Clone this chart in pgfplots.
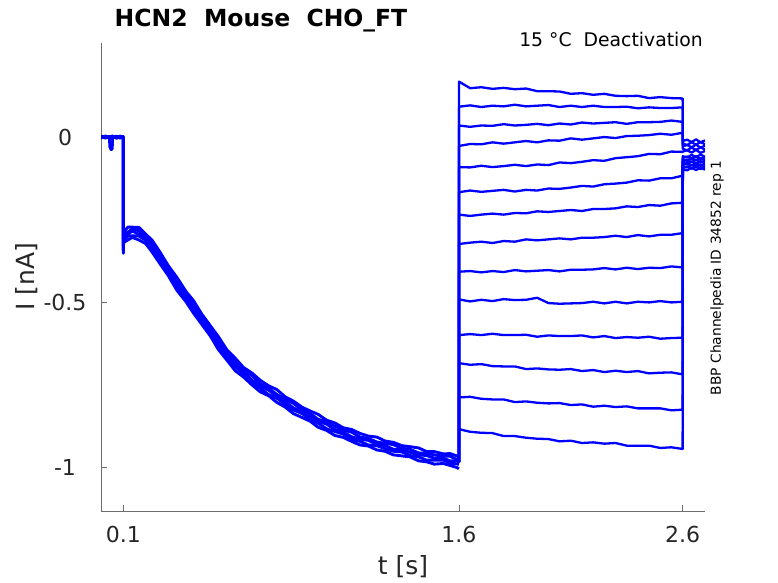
\documentclass[border=0pt]{standalone}
\usepackage{pgfplots}
\pgfplotsset{compat=1.18}
\usepackage{pgfplotstable}
\usepackage{fontspec}
\setmainfont{DejaVu Sans}
\definecolor{axgray}{RGB}{110,110,110}
\definecolor{txtgray}{RGB}{38,38,38}
\definecolor{trace}{RGB}{0,0,255}

\pgfplotstableread{
t      A      B      C      D      E
0      0.002  -0.002 0.001  -0.003 0.003
0.02   -0.002 0.003  -0.003 0.002  -0.001
0.037  0.001  -0.001 0.002  0.000  -0.002
0.04   0.000  0.001  -0.030 -0.002 0.002
0.045  -0.002 0.002  -0.038 0.001  -0.001
0.05   0.003  -0.003 -0.036 0.003  0.000
0.052  0.001  0.000  0.000  -0.001 0.002
0.07   -0.003 0.002  -0.002 0.002  -0.003
0.085  0.002  -0.002 0.003  -0.003 0.001
0.0995 0.000  0.001  -0.001 0.001  -0.002
0.1    -0.310 -0.330 -0.340 -0.345 -0.352
0.101  -0.288 -0.296 -0.305 -0.315 -0.319
0.12   -0.273 -0.288 -0.294 -0.300 -0.312
0.14   -0.273 -0.278 -0.285 -0.299 -0.304
0.17   -0.274 -0.284 -0.294 -0.300 -0.312
0.20   -0.294 -0.301 -0.307 -0.313 -0.323
0.23   -0.314 -0.322 -0.336 -0.343 -0.350
0.265  -0.350 -0.361 -0.367 -0.374 -0.385
0.30   -0.389 -0.396 -0.402 -0.416 -0.419
0.34   -0.426 -0.441 -0.448 -0.452 -0.465
0.38   -0.468 -0.475 -0.482 -0.491 -0.499
0.414  -0.496 -0.503 -0.517 -0.523 -0.534
0.45   -0.536 -0.544 -0.548 -0.555 -0.567
0.488  -0.571 -0.579 -0.588 -0.598 -0.602
0.525  -0.605 -0.620 -0.626 -0.632 -0.644
0.563  -0.645 -0.650 -0.657 -0.671 -0.676
0.60   -0.670 -0.680 -0.690 -0.696 -0.708
0.637  -0.698 -0.705 -0.711 -0.717 -0.727
0.675  -0.715 -0.723 -0.737 -0.744 -0.751
0.712  -0.737 -0.748 -0.754 -0.761 -0.772
0.75   -0.754 -0.761 -0.767 -0.781 -0.784
0.786  -0.765 -0.780 -0.787 -0.791 -0.804
0.823  -0.787 -0.794 -0.801 -0.810 -0.818
0.86   -0.800 -0.807 -0.821 -0.827 -0.838
0.90   -0.819 -0.827 -0.831 -0.838 -0.850
0.935  -0.830 -0.838 -0.847 -0.857 -0.861
0.97   -0.840 -0.855 -0.861 -0.867 -0.879
1.009  -0.858 -0.863 -0.870 -0.884 -0.889
1.045  -0.866 -0.876 -0.886 -0.892 -0.904
1.083  -0.881 -0.888 -0.894 -0.900 -0.910
1.12   -0.886 -0.894 -0.908 -0.915 -0.922
1.158  -0.898 -0.909 -0.915 -0.922 -0.933
1.195  -0.906 -0.913 -0.919 -0.933 -0.936
1.233  -0.909 -0.924 -0.931 -0.935 -0.948
1.27   -0.921 -0.928 -0.935 -0.944 -0.952
1.307  -0.925 -0.932 -0.946 -0.952 -0.963
1.345  -0.935 -0.943 -0.947 -0.954 -0.966
1.381  -0.938 -0.946 -0.955 -0.965 -0.969
1.42   -0.942 -0.957 -0.963 -0.969 -0.981
1.456  -0.953 -0.958 -0.965 -0.979 -0.984
1.49   -0.953 -0.963 -0.973 -0.979 -0.991
1.53   -0.960 -0.967 -0.973 -0.979 -0.989
1.56   -0.959 -0.967 -0.981 -0.988 -0.995
1.59   -0.966 -0.977 -0.981 -0.990 -1.001
1.6    -0.970 -0.975 -0.985 -0.992 -1.005
}\band

\pgfplotstableread{
t      L1     L2     L3     L4     L5     L6     L7     L8     L9     L10    L11    L12    L13    L14
1.6    -0.985 -0.985 -0.985 -0.985 -0.985 -0.985 -0.985 -0.985 -0.985 -0.985 -0.985 -0.985 -0.985 -0.985
1.6005 0.168  0.092  0.035  -0.027 -0.091 -0.167 -0.235 -0.324 -0.408 -0.492 -0.600 -0.685 -0.789 -0.885
1.65   0.148  0.096  0.031  -0.021 -0.092 -0.162 -0.239 -0.320 -0.406 -0.498 -0.597 -0.690 -0.787 -0.893
1.70   0.151  0.091  0.035  -0.022 -0.087 -0.166 -0.235 -0.317 -0.410 -0.493 -0.600 -0.688 -0.793 -0.896
1.75   0.146  0.095  0.034  -0.016 -0.091 -0.163 -0.232 -0.321 -0.406 -0.497 -0.596 -0.694 -0.795 -0.897
1.80   0.149  0.093  0.039  -0.020 -0.088 -0.160 -0.235 -0.315 -0.409 -0.491 -0.600 -0.695 -0.795 -0.906
1.85   0.145  0.098  0.035  -0.016 -0.084 -0.165 -0.230 -0.317 -0.403 -0.494 -0.600 -0.695 -0.803 -0.906
1.90   0.147  0.093  0.037  -0.012 -0.088 -0.160 -0.231 -0.310 -0.407 -0.493 -0.599 -0.703 -0.801 -0.911
1.95   0.139  0.095  0.040  -0.016 -0.083 -0.162 -0.225 -0.313 -0.405 -0.487 -0.605 -0.701 -0.805 -0.914
2.00   0.139  0.097  0.036  -0.010 -0.085 -0.156 -0.227 -0.310 -0.403 -0.503 -0.601 -0.704 -0.807 -0.915
2.05   0.138  0.091  0.041  -0.011 -0.077 -0.157 -0.224 -0.307 -0.407 -0.505 -0.603 -0.705 -0.806 -0.922
2.10   0.131  0.095  0.038  -0.004 -0.079 -0.153 -0.221 -0.310 -0.402 -0.504 -0.603 -0.703 -0.812 -0.920
2.15   0.133  0.091  0.044  -0.008 -0.075 -0.148 -0.224 -0.305 -0.402 -0.503 -0.601 -0.709 -0.810 -0.927
2.20   0.128  0.095  0.041  -0.004 -0.070 -0.150 -0.218 -0.305 -0.401 -0.499 -0.607 -0.706 -0.817 -0.925
2.25   0.131  0.091  0.043  0.000  -0.072 -0.143 -0.218 -0.303 -0.397 -0.504 -0.603 -0.712 -0.814 -0.929
2.30   0.125  0.091  0.045  -0.003 -0.064 -0.141 -0.216 -0.299 -0.401 -0.499 -0.609 -0.708 -0.818 -0.927
2.35   0.124  0.092  0.040  0.003  -0.061 -0.138 -0.210 -0.303 -0.396 -0.504 -0.606 -0.712 -0.816 -0.935
2.40   0.125  0.087  0.045  0.004  -0.058 -0.131 -0.212 -0.297 -0.400 -0.499 -0.608 -0.709 -0.822 -0.935
2.45   0.118  0.090  0.045  0.006  -0.051 -0.132 -0.206 -0.301 -0.396 -0.501 -0.605 -0.716 -0.822 -0.935
2.50   0.121  0.088  0.046  0.010  -0.052 -0.125 -0.208 -0.296 -0.397 -0.497 -0.611 -0.714 -0.822 -0.942
2.55   0.118  0.088  0.050  0.007  -0.044 -0.125 -0.201 -0.296 -0.392 -0.501 -0.609 -0.713 -0.828 -0.940
2.60   0.117  0.090  0.046  0.013  -0.045 -0.117 -0.199 -0.291 -0.395 -0.499 -0.608 -0.719 -0.826 -0.945
2.601  -0.012 -0.020 -0.028 -0.036 -0.044 -0.058 -0.063 -0.068 -0.073 -0.078 -0.083 -0.088 -0.093 -0.097
2.62   -0.008 -0.024 -0.024 -0.040 -0.040 -0.062 -0.059 -0.072 -0.069 -0.082 -0.079 -0.092 -0.089 -0.101
2.64   -0.015 -0.016 -0.031 -0.032 -0.047 -0.054 -0.066 -0.064 -0.076 -0.074 -0.086 -0.084 -0.096 -0.093
2.66   -0.007 -0.023 -0.023 -0.039 -0.039 -0.061 -0.058 -0.071 -0.068 -0.081 -0.078 -0.091 -0.088 -0.100
2.68   -0.016 -0.015 -0.032 -0.031 -0.048 -0.053 -0.067 -0.063 -0.077 -0.073 -0.087 -0.083 -0.097 -0.092
2.70   -0.010 -0.022 -0.026 -0.038 -0.042 -0.060 -0.061 -0.070 -0.071 -0.080 -0.081 -0.090 -0.091 -0.099
}\steps

\begin{document}
\begin{tikzpicture}
\useasboundingbox (0,0) rectangle (778bp,583bp);
\begin{axis}[
  at={(101bp,72bp)}, anchor=south west,
  scale only axis, width=604bp, height=468bp,
  xmin=0, xmax=2.7, ymin=-1.133, ymax=0.285,
  axis x line*=bottom, axis y line*=left,
  axis line style={-, draw=axgray, line width=0.8bp},
  every outer x axis line/.append style={-},
  every outer y axis line/.append style={-},
  tick align=inside, major tick length=6bp,
  tick style={draw=axgray, line width=0.8bp},
  xtick={0.1,1.6,2.6}, xticklabels={0.1,1.6,2.6},
  ytick={-1,-0.5,0}, yticklabels={-1,-0.5,0},
  minor tick num=0,
  tick label style={font=\fontsize{22bp}{26bp}\selectfont, text=txtgray},
  xticklabel style={anchor=center, yshift=-23bp},
  yticklabel style={anchor=center, xshift=-36bp},
  xlabel={t [s]}, ylabel={I [nA]},
  label style={font=\fontsize{25bp}{30bp}\selectfont, text=txtgray},
  xlabel style={at={(axis description cs:0.5,-0.1197)}, anchor=center},
  ylabel style={at={(axis description cs:-0.1225,0.5)}, anchor=center},
  bd/.style={draw=trace, solid, line width=2.9bp, line join=round, mark=none},
  tr/.style={draw=trace, solid, line width=2.3bp, line join=round, mark=none},
]
\addplot[bd] table[x=t,y=A]{\band};
\addplot[bd] table[x=t,y=B]{\band};
\addplot[bd] table[x=t,y=C]{\band};
\addplot[bd] table[x=t,y=D]{\band};
\addplot[bd] table[x=t,y=E]{\band};
\addplot[tr] table[x=t,y=L1]{\steps};
\addplot[tr] table[x=t,y=L2]{\steps};
\addplot[tr] table[x=t,y=L3]{\steps};
\addplot[tr] table[x=t,y=L4]{\steps};
\addplot[tr] table[x=t,y=L5]{\steps};
\addplot[tr] table[x=t,y=L6]{\steps};
\addplot[tr] table[x=t,y=L7]{\steps};
\addplot[tr] table[x=t,y=L8]{\steps};
\addplot[tr] table[x=t,y=L9]{\steps};
\addplot[tr] table[x=t,y=L10]{\steps};
\addplot[tr] table[x=t,y=L11]{\steps};
\addplot[tr] table[x=t,y=L12]{\steps};
\addplot[tr] table[x=t,y=L13]{\steps};
\addplot[tr] table[x=t,y=L14]{\steps};
\end{axis}
\node[anchor=base, font=\fontsize{23.5bp}{28bp}\selectfont\bfseries] at (261bp,556.3bp) {HCN2\ \ Mouse\ \ CHO\_FT};
\node[anchor=base east, font=\fontsize{18.8bp}{22bp}\selectfont, inner sep=0pt] at (703bp,536.3bp) {15 °C\ \ Deactivation};
\node[rotate=90, anchor=center, font=\fontsize{13.8bp}{16bp}\selectfont, inner sep=0pt] at (717bp,305bp) {BBP Channelpedia ID 34852 rep 1};
\end{tikzpicture}
\end{document}
